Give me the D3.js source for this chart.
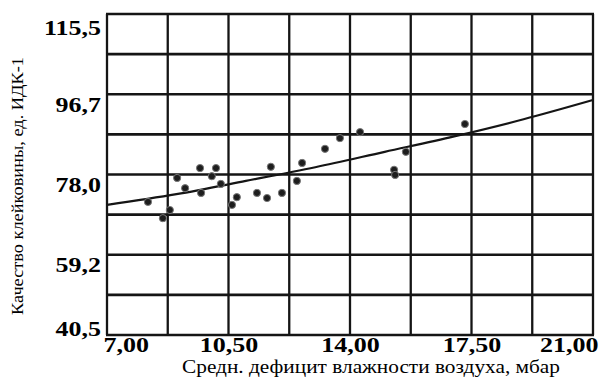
<!DOCTYPE html>
<html>
<head>
<meta charset="utf-8">
<script src="https://cdn.jsdelivr.net/npm/d3@7"></script>
<style>
  html, body { margin: 0; padding: 0; background: #fff; }
  svg { display: block; }
</style>
</head>
<body>
<div id="chart"></div>
<script>
// Средний дефицит влажности воздуха (мбар) и качество клейковины (ед. ИДК-1)
const deficit = [8.18, 8.61, 8.81, 9.02, 9.25, 9.68, 10.14, 10.02, 9.71, 10.28, 10.60, 10.74,
                 11.32, 11.61, 11.72, 12.04, 12.62, 12.47, 13.28, 13.71, 14.29, 15.27, 15.30,
                 15.61, 17.31];
const quality = [71.6, 67.8, 69.7, 77.2, 74.8, 79.5, 79.5, 77.6, 73.7, 75.8, 70.9, 72.7,
                 73.7, 72.5, 79.8, 73.7, 80.7, 76.5, 84.0, 86.5, 87.9, 79.1, 77.9,
                 83.3, 89.8];

// Линия тренда
const trendX = [7, 9, 11, 13, 15, 17, 19, 21];
const trendY = [70.9, 73.4, 76.5, 79.7, 83.3, 86.9, 90.9, 95.4];

// Подписи осей
const xTickValues = [7, 10.5, 14, 17.5, 21];
const xTickLabels = ["7,00", "10,50", "14,00", "17,50", "21,00"];
const yTickValues = [115.5, 96.7, 78.0, 59.2, 40.5];
const yTickLabels = ["115,5", "96,7", "78,0", "59,2", "40,5"];

// Сетка
const gridX = [7, 8.75, 10.5, 12.25, 14, 15.75, 17.5, 19.25, 21];
const gridY = [40.5, 49.875, 59.25, 68.625, 78, 87.375, 96.75, 106.125, 115.5];

const W = 605, H = 389;
const margin = { left: 107, right: 12, top: 14, bottom: 54 };

const svg = d3.select("#chart").append("svg")
  .attr("width", W).attr("height", H);

const x = d3.scaleLinear().domain([7, 21]).range([margin.left, W - margin.right]);
const y = d3.scaleLinear().domain([40.5, 115.5]).range([H - margin.bottom, margin.top]);

const ink = "#151515";
const serif = "'Liberation Serif', 'Times New Roman', serif";

// Сетка
svg.append("g").selectAll("line").data(gridX).join("line")
  .attr("x1", d => x(d)).attr("x2", d => x(d))
  .attr("y1", y(40.5)).attr("y2", y(115.5))
  .attr("stroke", ink).attr("stroke-width", 2.3);

svg.append("g").selectAll("line").data(gridY).join("line")
  .attr("x1", x(7) - 1).attr("x2", x(21) + 1)
  .attr("y1", d => y(d)).attr("y2", d => y(d))
  .attr("stroke", ink).attr("stroke-width", 2.7);

// Линия тренда
const line = d3.line()
  .x((d, i) => x(trendX[i]))
  .y(d => y(d))
  .curve(d3.curveMonotoneX);

svg.append("path")
  .datum(trendY)
  .attr("d", line)
  .attr("fill", "none")
  .attr("stroke", ink)
  .attr("stroke-width", 2.2);

// Точки наблюдений
svg.append("g").selectAll("circle").data(deficit).join("circle")
  .attr("cx", d => x(d))
  .attr("cy", (d, i) => y(quality[i]))
  .attr("r", 3.6)
  .attr("fill", "#1e1e1e")
  .attr("stroke", "#777")
  .attr("stroke-width", 1);

// Ось X
const xAxis = d3.axisBottom(x)
  .tickValues(xTickValues)
  .tickFormat((d, i) => xTickLabels[i])
  .tickSize(0)
  .tickPadding(0);

const lastX = xTickValues.length - 1;
const gx = svg.append("g")
  .attr("transform", `translate(0,${H - margin.bottom})`)
  .call(xAxis);
gx.select(".domain").remove();
gx.selectAll("text")
  .attr("y", 0)
  .attr("dy", 17)
  .attr("font-family", serif)
  .attr("font-weight", "bold")
  .attr("font-size", 21)
  .attr("fill", "#000")
  .attr("text-anchor", (d, i) => i === 0 ? "start" : i === lastX ? "end" : "middle")
  .attr("transform", (d, i) => {
    const dx = i === 0 ? -4 : i === lastX ? 5 : 0;
    return `translate(${dx},0) scale(1.24,1)`;
  });

// Ось Y: крайние подписи прижаты внутрь диапазона
const yAxis = d3.axisLeft(y)
  .tickValues(yTickValues)
  .tickFormat((d, i) => yTickLabels[i])
  .tickSize(0)
  .tickPadding(0);

const lastY = yTickValues.length - 1;
const gy = svg.append("g")
  .attr("transform", `translate(${margin.left},0)`)
  .call(yAxis);
gy.select(".domain").remove();
gy.selectAll("text")
  .attr("x", 0)
  .attr("dy", "0.35em")
  .attr("font-family", serif)
  .attr("font-weight", "bold")
  .attr("font-size", 22)
  .attr("fill", "#000")
  .attr("text-anchor", "end")
  .attr("transform", (d, i) => {
    const dy = i === 0 ? 13 : i === lastY ? -7 : 9;
    return `translate(-6,${dy}) scale(1.18,1)`;
  });

// Названия осей
svg.append("text")
  .attr("x", 371).attr("y", 373)
  .attr("text-anchor", "middle")
  .attr("font-family", serif)
  .attr("font-size", 18)
  .attr("textLength", 378)
  .attr("lengthAdjust", "spacingAndGlyphs")
  .attr("fill", "#000")
  .text("Средн. дефицит влажности воздуха, мбар");

svg.append("text")
  .attr("transform", "translate(23,186) rotate(-90)")
  .attr("text-anchor", "middle")
  .attr("font-family", serif)
  .attr("font-size", 17)
  .attr("textLength", 258)
  .attr("lengthAdjust", "spacingAndGlyphs")
  .attr("fill", "#000")
  .text("Качество клейковины, ед. ИДК-1");
</script>
</body>
</html>
